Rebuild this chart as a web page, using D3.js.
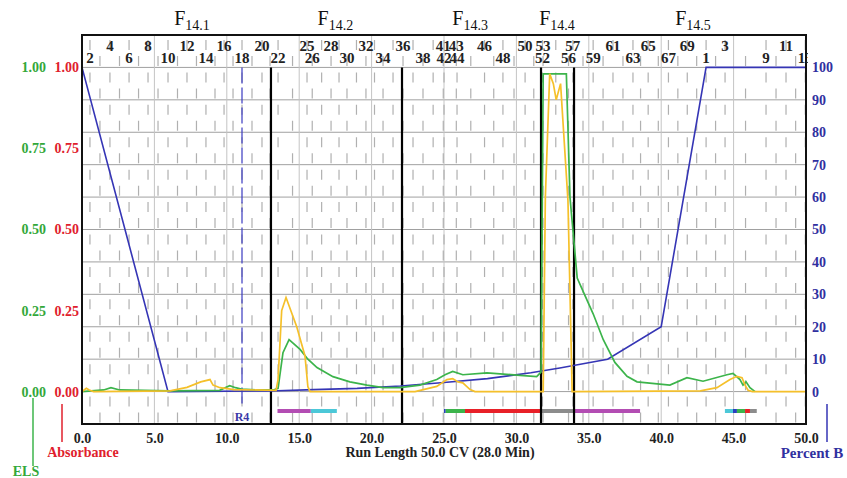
<!DOCTYPE html>
<html>
<head>
<meta charset="utf-8">
<script src="https://cdn.jsdelivr.net/npm/d3@7"></script>
<style>
  body { margin: 0; background: #fff; }
  svg text { font-family: "Liberation Serif", "DejaVu Serif", serif; font-weight: bold; }
</style>
</head>
<body>
<div id="chart-area"></div>
<script>
// run length (CV) values
var xTicks = [0, 5, 10, 15, 20, 25, 30, 35, 40, 45, 50]
var bTicks = [0, 10, 20, 30, 40, 50, 60, 70, 80, 90, 100]
var sigTicks = [0, 0.25, 0.5, 0.75, 1]

// fraction tube numbers along the top (two staggered rows)
var fracUpper = ['4','8','12','16','20','25','28','32','36','41','43','46','50','53','57','61','65','69','3','11']
var fracUpperX = [1.93, 4.56, 7.25, 9.81, 12.43, 15.54, 17.2, 19.61, 22.17, 24.95, 25.85, 27.8, 30.6, 31.84, 33.9, 36.67, 39.1, 41.8, 44.41, 48.62]
var fracLower = ['2','6','10','14','18','22','26','30','34','38','42','44','48','52','56','59','63','67','1','9','13']
var fracLowerX = [0.55, 3.25, 5.94, 8.56, 11.05, 13.54, 15.9, 18.3, 20.79, 23.55, 25.0, 25.9, 29.07, 31.8, 33.6, 35.3, 38.05, 40.5, 43.1, 47.24, 49.95]

// pooled fractions
var poolNames = ['14.1', '14.2', '14.3', '14.4', '14.5']
var poolX = [7.6, 17.5, 26.8, 32.8, 42.2]
var poolCuts = [13.05, 22.1, 31.7, 33.98]

// gradient (percent B)
var gradX = [0, 5.94, 13, 16, 19, 22, 25, 28, 31, 33, 36.3, 40, 43.1, 50]
var gradB = [100, 0, 0.2, 0.6, 1.0, 1.7, 2.8, 4.0, 5.8, 7.3, 10, 20, 100, 100]

// ELS signal
var elsX = [0, 1.5, 2, 2.6, 6, 9.5, 10.2, 10.6, 11, 12, 13.3, 13.54, 13.88, 14.3, 15.06, 15.6, 16.23, 17.33, 18.5, 19.68, 20.8, 21.96, 23.34, 24.5, 25.07, 25.6, 26.3, 27.97, 30.25, 31.4, 31.7, 31.85, 33.45, 33.7, 34.2, 34.7, 35.3, 36.0, 36.8, 37.64, 38.33, 40.6, 41.78, 42.89, 44.54, 44.96, 45.44, 45.65, 45.86, 46.13, 46.48]
var elsY = [0, 0.005, 0.012, 0.005, 0.002, 0.004, 0.018, 0.012, 0.008, 0.005, 0.006, 0.01, 0.12, 0.16, 0.13, 0.10, 0.074, 0.046, 0.03, 0.02, 0.012, 0.012, 0.02, 0.037, 0.052, 0.062, 0.052, 0.058, 0.05, 0.046, 0.06, 0.98, 0.98, 0.6, 0.35, 0.3, 0.24, 0.16, 0.09, 0.047, 0.03, 0.02, 0.043, 0.032, 0.052, 0.056, 0.037, 0.02, 0.03, 0.012, 0]

// UV absorbance
var absX = [0, 0.3, 0.5, 0.8, 6.08, 7.25, 8.2, 8.84, 9.05, 9.53, 10.5, 13.4, 13.54, 13.79, 14.09, 14.83, 15.4, 15.6, 15.75, 23, 24.5, 25.2, 25.6, 25.97, 26.3, 26.8, 27.14, 31.85, 32.0, 32.3, 32.55, 32.75, 33.05, 33.56, 33.85, 42.7, 43.85, 44.75, 45.23, 45.58, 45.79, 46.0, 46.3, 50]
var absY = [0, 0.01, 0.005, 0, 0.002, 0.013, 0.03, 0.037, 0.02, 0.012, 0.006, 0.004, 0.037, 0.25, 0.29, 0.2, 0.11, 0.015, 0, 0, 0.016, 0.037, 0.04, 0.03, 0.027, 0.006, 0, 0, 0.6, 0.98, 0.95, 0.9, 0.95, 0.59, 0, 0.002, 0.012, 0.037, 0.047, 0.043, 0.02, 0.004, 0, 0]

// collected fraction bars
var barStart = [13.5, 15.8, 25.0, 25.12, 26.45, 31.63, 33.98, 44.4, 44.96, 45.23, 45.79, 46.13]
var barEnd = [15.8, 17.6, 25.12, 26.45, 31.63, 33.98, 38.54, 44.96, 45.23, 45.79, 46.13, 46.6]
var barColor = ['#b34db3', '#4cc8d8', '#2a3fbf', '#3cb44b', '#e82028', '#8c8c8c', '#b34db3', '#4cc8d8', '#2a3fbf', '#3cb44b', '#e82028', '#8c8c8c']

var rackMark = 11.05

var W = 847, H = 478
var m = { left: 82, right: 806, top: 35, bottom: 424 }

var svg = d3.select('#chart-area').append('svg')
  .attr('width', W).attr('height', H)

var x = d3.scaleLinear().domain([0, 50]).range([m.left, m.right])
var yB = d3.scaleLinear().domain([-10, 110]).range([m.bottom, m.top])
var yS = d3.scaleLinear().domain([-0.1, 1.1]).range([m.bottom, m.top])

svg.append('clipPath').attr('id', 'plot')
  .append('rect').attr('x', m.left).attr('y', m.top).attr('width', m.right - m.left).attr('height', m.bottom - m.top)
svg.append('clipPath').attr('id', 'labels')
  .append('rect').attr('x', m.left).attr('y', 0).attr('width', m.right - m.left + 2).attr('height', 80)

var plot = svg.append('g').attr('clip-path', 'url(#plot)')

// horizontal grid
plot.selectAll('.hgrid').data(bTicks.concat([110])).enter().append('line')
  .attr('x1', m.left).attr('x2', m.right)
  .attr('y1', function(d) { return yB(d) }).attr('y2', function(d) { return yB(d) })
  .attr('stroke', '#a0a0a0').attr('stroke-width', 1)

// vertical grid
plot.selectAll('.vgrid').data(xTicks).enter().append('line')
  .attr('x1', function(d) { return x(d) }).attr('x2', function(d) { return x(d) })
  .attr('y1', m.top).attr('y2', m.bottom)
  .attr('stroke', '#c4c4c4').attr('stroke-width', 1)

// fraction tube dashes: at every label and halfway between spaced labels
var labX = fracUpperX.concat(fracLowerX).sort(function(a, b) { return a - b })
var tubes = []
labX.forEach(function(d, i) {
  tubes.push(d)
  if (i < labX.length - 1 && labX[i + 1] - d > 0.9) tubes.push((d + labX[i + 1]) / 2)
})
var period = yB(0) - yB(10)
plot.selectAll('.tube').data(tubes).enter().append('line')
  .attr('x1', function(d) { return x(d) }).attr('x2', function(d) { return x(d) })
  .attr('y1', function(d, i) { return yB(110) + (i % 2 ? 21 : 5) - period })
  .attr('y2', m.bottom)
  .attr('stroke', '#b0b0b0').attr('stroke-width', 1.2)
  .attr('stroke-dasharray', '10,' + (period - 10))

// collected fraction bars
plot.selectAll('.bar').data(barStart).enter().append('line')
  .attr('x1', function(d) { return x(d) })
  .attr('x2', function(d, i) { return x(barEnd[i]) })
  .attr('y1', 411).attr('y2', 411)
  .attr('stroke', function(d, i) { return barColor[i] })
  .attr('stroke-width', 4)

// rack change marker
plot.append('line')
  .attr('x1', x(rackMark)).attr('x2', x(rackMark))
  .attr('y1', yB(100)).attr('y2', 407)
  .attr('stroke', '#3a3ac0').attr('stroke-width', 1.2)
  .attr('stroke-dasharray', '16,4')
svg.append('text').attr('x', x(rackMark)).attr('y', 421)
  .attr('text-anchor', 'middle').attr('font-size', 12).attr('fill', '#3a3aa8')
  .text('R4')

// pooled fraction cuts
plot.selectAll('.cut').data(poolCuts).enter().append('line')
  .attr('x1', function(d) { return x(d) }).attr('x2', function(d) { return x(d) })
  .attr('y1', yB(100)).attr('y2', m.bottom)
  .attr('stroke', '#000').attr('stroke-width', 2.2)

// traces
var gradLine = d3.line().x(function(d) { return x(d[0]) }).y(function(d) { return yB(d[1]) })
var sigLine = d3.line().x(function(d) { return x(d[0]) }).y(function(d) { return yS(d[1]) })

plot.append('path').datum(d3.zip(gradX, gradB))
  .attr('d', gradLine).attr('fill', 'none').attr('stroke', '#3535b5').attr('stroke-width', 1.6)
plot.append('path').datum(d3.zip(elsX, elsY))
  .attr('d', sigLine).attr('fill', 'none').attr('stroke', '#3cb44b').attr('stroke-width', 1.7)
plot.append('path').datum(d3.zip(absX, absY))
  .attr('d', sigLine).attr('fill', 'none').attr('stroke', '#f5c02a').attr('stroke-width', 1.7)

// frame
svg.append('rect')
  .attr('x', m.left).attr('y', m.top).attr('width', m.right - m.left).attr('height', m.bottom - m.top)
  .attr('fill', 'none').attr('stroke', '#111').attr('stroke-width', 2)

// fraction numbers
var labG = svg.append('g').attr('clip-path', 'url(#labels)')
labG.selectAll('.fu').data(fracUpper).enter().append('text')
  .attr('x', function(d, i) { return x(fracUpperX[i]) }).attr('y', 51)
  .attr('text-anchor', 'middle').attr('font-size', 15).attr('fill', '#222')
  .text(function(d) { return d })
labG.selectAll('.fl').data(fracLower).enter().append('text')
  .attr('x', function(d, i) { return x(fracLowerX[i]) }).attr('y', 63)
  .attr('text-anchor', 'middle').attr('font-size', 15).attr('fill', '#222')
  .text(function(d) { return d })

// pool names
var pool = svg.selectAll('.pool').data(poolNames).enter().append('text')
  .attr('x', function(d, i) { return x(poolX[i]) }).attr('y', 25)
  .attr('text-anchor', 'middle').attr('fill', '#111')
  .style('font-weight', 'normal')
pool.append('tspan').attr('font-size', 20).text('F')
pool.append('tspan').attr('font-size', 14).attr('dy', 5).text(function(d) { return d })

// axes
function styleAxis(g, color, size) {
  g.select('.domain').remove()
  g.selectAll('text').attr('fill', color).attr('font-size', size)
    .style('font-family', '"Liberation Serif", serif').style('font-weight', 'bold')
}

svg.append('g').attr('transform', 'translate(0,' + m.bottom + ')')
  .call(d3.axisBottom(x).tickValues(xTicks).tickSize(0).tickPadding(9).tickFormat(d3.format('.1f')))
  .call(styleAxis, '#222', 14)

svg.append('g').attr('transform', 'translate(' + (m.right + 4) + ',0)')
  .call(d3.axisRight(yB).tickValues(bTicks).tickSize(0).tickPadding(2))
  .call(styleAxis, '#3030a0', 14)

svg.append('g').attr('transform', 'translate(81,0)')
  .call(d3.axisLeft(yS).tickValues(sigTicks).tickSize(0).tickPadding(2).tickFormat(d3.format('.2f')))
  .call(styleAxis, '#e0202c', 14)

svg.append('g').attr('transform', 'translate(48,0)')
  .call(d3.axisLeft(yS).tickValues(sigTicks).tickSize(0).tickPadding(2).tickFormat(d3.format('.2f')))
  .call(styleAxis, '#33a83a', 14)

// axis titles
svg.append('text').attr('x', 440).attr('y', 457).attr('text-anchor', 'middle')
  .attr('font-size', 14).attr('fill', '#222').text('Run Length 50.0 CV (28.0 Min)')

svg.append('line').attr('x1', 33).attr('x2', 33).attr('y1', 398).attr('y2', 466)
  .attr('stroke', '#3cb44b').attr('stroke-width', 1.5)
svg.append('text').attr('x', 26).attr('y', 476).attr('text-anchor', 'middle')
  .attr('font-size', 14).attr('fill', '#33a83a').text('ELS')

svg.append('line').attr('x1', 62).attr('x2', 62).attr('y1', 404).attr('y2', 442)
  .attr('stroke', '#e0202c').attr('stroke-width', 1.5)
svg.append('text').attr('x', 83).attr('y', 457).attr('text-anchor', 'middle')
  .attr('font-size', 14).attr('fill', '#e0202c').text('Absorbance')

svg.append('line').attr('x1', 827).attr('x2', 827).attr('y1', 404).attr('y2', 442)
  .attr('stroke', '#3535b5').attr('stroke-width', 1.5)
svg.append('text').attr('x', 812).attr('y', 458).attr('text-anchor', 'middle')
  .attr('font-size', 15).attr('fill', '#3030a0').text('Percent B')
</script>
</body>
</html>
